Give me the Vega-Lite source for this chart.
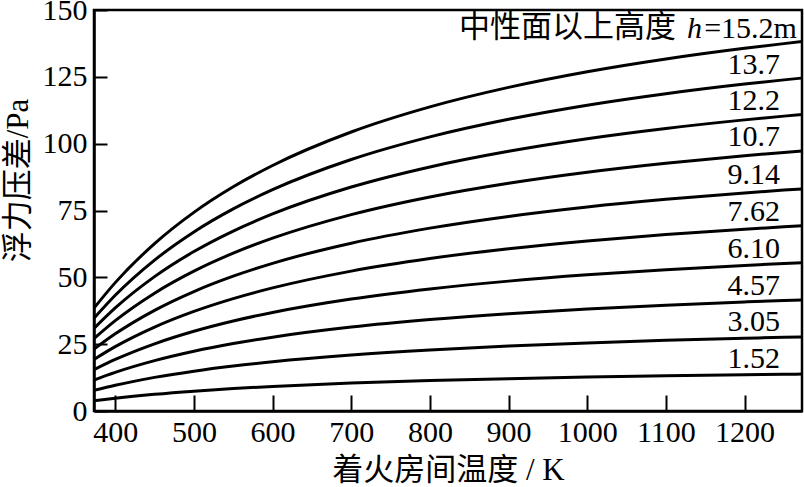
{
  "$schema": "https://vega.github.io/schema/vega-lite/v6.json",
  "autosize": "none",
  "width": 708,
  "height": 401,
  "padding": {"left": 94, "top": 10, "right": 2, "bottom": 76},
  "background": "white",
  "config": {
    "font": "Liberation Serif, Noto Sans CJK SC",
    "view": {"stroke": "black", "strokeWidth": 2.5},
    "axis": {"grid": false, "domainColor": "black", "domainWidth": 2.5, "tickColor": "black", "tickWidth": 2, "labelColor": "black", "titleColor": "black", "labelFont": "Liberation Serif", "labelFontSize": 30, "titleFontWeight": "normal", "titleFont": "Liberation Serif, Noto Sans CJK SC", "titleFontSize": 31}
  },
  "data": {"values": [
    {"h":"1.52","T":373,"P":3.85},{"h":"1.52","T":400,"P":4.80},{"h":"1.52","T":450,"P":6.26},{"h":"1.52","T":500,"P":7.43},{"h":"1.52","T":550,"P":8.39},{"h":"1.52","T":600,"P":9.18},{"h":"1.52","T":700,"P":10.44},{"h":"1.52","T":800,"P":11.38},{"h":"1.52","T":900,"P":12.11},{"h":"1.52","T":1000,"P":12.69},{"h":"1.52","T":1100,"P":13.17},{"h":"1.52","T":1200,"P":13.57},{"h":"1.52","T":1250,"P":13.74},{"h":"1.52","T":1273,"P":13.82},
    {"h":"3.05","T":373,"P":7.73},{"h":"3.05","T":400,"P":9.63},{"h":"3.05","T":450,"P":12.57},{"h":"3.05","T":500,"P":14.91},{"h":"3.05","T":550,"P":16.83},{"h":"3.05","T":600,"P":18.43},{"h":"3.05","T":700,"P":20.94},{"h":"3.05","T":800,"P":22.83},{"h":"3.05","T":900,"P":24.29},{"h":"3.05","T":1000,"P":25.46},{"h":"3.05","T":1100,"P":26.42},{"h":"3.05","T":1200,"P":27.22},{"h":"3.05","T":1250,"P":27.58},{"h":"3.05","T":1273,"P":27.73},
    {"h":"4.57","T":373,"P":11.57},{"h":"4.57","T":400,"P":14.44},{"h":"4.57","T":450,"P":18.83},{"h":"4.57","T":500,"P":22.34},{"h":"4.57","T":550,"P":25.22},{"h":"4.57","T":600,"P":27.61},{"h":"4.57","T":700,"P":31.38},{"h":"4.57","T":800,"P":34.20},{"h":"4.57","T":900,"P":36.40},{"h":"4.57","T":1000,"P":38.15},{"h":"4.57","T":1100,"P":39.59},{"h":"4.57","T":1200,"P":40.79},{"h":"4.57","T":1250,"P":41.32},{"h":"4.57","T":1273,"P":41.55},
    {"h":"6.10","T":373,"P":15.45},{"h":"6.10","T":400,"P":19.27},{"h":"6.10","T":450,"P":25.13},{"h":"6.10","T":500,"P":29.82},{"h":"6.10","T":550,"P":33.66},{"h":"6.10","T":600,"P":36.86},{"h":"6.10","T":700,"P":41.88},{"h":"6.10","T":800,"P":45.65},{"h":"6.10","T":900,"P":48.58},{"h":"6.10","T":1000,"P":50.93},{"h":"6.10","T":1100,"P":52.84},{"h":"6.10","T":1200,"P":54.45},{"h":"6.10","T":1250,"P":55.15},{"h":"6.10","T":1273,"P":55.46},
    {"h":"7.62","T":373,"P":19.30},{"h":"7.62","T":400,"P":24.07},{"h":"7.62","T":450,"P":31.39},{"h":"7.62","T":500,"P":37.25},{"h":"7.62","T":550,"P":42.05},{"h":"7.62","T":600,"P":46.04},{"h":"7.62","T":700,"P":52.32},{"h":"7.62","T":800,"P":57.03},{"h":"7.62","T":900,"P":60.69},{"h":"7.62","T":1000,"P":63.62},{"h":"7.62","T":1100,"P":66.01},{"h":"7.62","T":1200,"P":68.02},{"h":"7.62","T":1250,"P":68.89},{"h":"7.62","T":1273,"P":69.27},
    {"h":"9.14","T":373,"P":23.15},{"h":"9.14","T":400,"P":28.87},{"h":"9.14","T":450,"P":37.66},{"h":"9.14","T":500,"P":44.69},{"h":"9.14","T":550,"P":50.43},{"h":"9.14","T":600,"P":55.23},{"h":"9.14","T":700,"P":62.76},{"h":"9.14","T":800,"P":68.40},{"h":"9.14","T":900,"P":72.79},{"h":"9.14","T":1000,"P":76.31},{"h":"9.14","T":1100,"P":79.18},{"h":"9.14","T":1200,"P":81.58},{"h":"9.14","T":1250,"P":82.63},{"h":"9.14","T":1273,"P":83.09},
    {"h":"10.7","T":373,"P":27.10},{"h":"10.7","T":400,"P":33.80},{"h":"10.7","T":450,"P":44.08},{"h":"10.7","T":500,"P":52.31},{"h":"10.7","T":550,"P":59.04},{"h":"10.7","T":600,"P":64.65},{"h":"10.7","T":700,"P":73.47},{"h":"10.7","T":800,"P":80.08},{"h":"10.7","T":900,"P":85.21},{"h":"10.7","T":1000,"P":89.33},{"h":"10.7","T":1100,"P":92.69},{"h":"10.7","T":1200,"P":95.51},{"h":"10.7","T":1250,"P":96.74},{"h":"10.7","T":1273,"P":97.27},
    {"h":"12.2","T":373,"P":30.90},{"h":"12.2","T":400,"P":38.54},{"h":"12.2","T":450,"P":50.26},{"h":"12.2","T":500,"P":59.65},{"h":"12.2","T":550,"P":67.32},{"h":"12.2","T":600,"P":73.71},{"h":"12.2","T":700,"P":83.77},{"h":"12.2","T":800,"P":91.30},{"h":"12.2","T":900,"P":97.16},{"h":"12.2","T":1000,"P":101.86},{"h":"12.2","T":1100,"P":105.69},{"h":"12.2","T":1200,"P":108.90},{"h":"12.2","T":1250,"P":110.30},{"h":"12.2","T":1273,"P":110.91},
    {"h":"13.7","T":373,"P":34.70},{"h":"13.7","T":400,"P":43.28},{"h":"13.7","T":450,"P":56.44},{"h":"13.7","T":500,"P":66.98},{"h":"13.7","T":550,"P":75.60},{"h":"13.7","T":600,"P":82.78},{"h":"13.7","T":700,"P":94.06},{"h":"13.7","T":800,"P":102.53},{"h":"13.7","T":900,"P":109.11},{"h":"13.7","T":1000,"P":114.38},{"h":"13.7","T":1100,"P":118.68},{"h":"13.7","T":1200,"P":122.29},{"h":"13.7","T":1250,"P":123.86},{"h":"13.7","T":1273,"P":124.55},
    {"h":"15.2","T":373,"P":38.50},{"h":"15.2","T":400,"P":48.02},{"h":"15.2","T":450,"P":62.62},{"h":"15.2","T":500,"P":74.31},{"h":"15.2","T":550,"P":83.87},{"h":"15.2","T":600,"P":91.84},{"h":"15.2","T":700,"P":104.36},{"h":"15.2","T":800,"P":113.76},{"h":"15.2","T":900,"P":121.05},{"h":"15.2","T":1000,"P":126.90},{"h":"15.2","T":1100,"P":131.68},{"h":"15.2","T":1200,"P":135.68},{"h":"15.2","T":1250,"P":137.42},{"h":"15.2","T":1273,"P":138.18}
  ]},
  "encoding": {
    "x": {"field": "T", "type": "quantitative", "scale": {"domain": [373, 1273], "nice": false, "zero": false},
      "axis": {"title": "着火房间温度 / K", "format": "d", "values": [400,500,600,700,800,900,1000,1100,1200], "tickSize": -16, "labelPadding": 22, "titlePadding": 8, "labelFlush": false}},
    "y": {"field": "P", "type": "quantitative", "scale": {"domain": [0, 150], "nice": false},
      "axis": {"title": "浮力压差/Pa", "format": "d", "values": [0,25,50,75,100,125,150], "tickSize": -13, "labelPadding": 20, "titlePadding": 8, "titleY": 170, "labelFlush": false}}
  },
  "layer": [
    {"mark": {"type": "line", "color": "black", "strokeWidth": 3, "interpolate": "monotone", "clip": true},
     "encoding": {"detail": {"field": "h"}}},
    {"transform": [{"filter": "datum.T == 1250 && datum.h != '15.2'"}],
     "mark": {"type": "text", "align": "right", "baseline": "alphabetic", "dx": -4, "dy": -6, "fontSize": 30, "font": "Liberation Serif", "color": "black"},
     "encoding": {"text": {"field": "h"}}},
    {"transform": [{"filter": "datum.T == 1250 && datum.h == '15.2'"}],
     "mark": {"type": "text", "align": "right", "baseline": "alphabetic", "dx": 13, "dy": -6, "fontSize": 30, "font": "Liberation Serif", "color": "black", "text": "=15.2m"}},
    {"transform": [{"filter": "datum.T == 1250 && datum.h == '15.2'"}],
     "mark": {"type": "text", "align": "right", "baseline": "alphabetic", "dx": -82, "dy": -6, "fontSize": 30, "font": "Liberation Serif", "fontStyle": "italic", "color": "black", "text": "h"}},
    {"transform": [{"filter": "datum.T == 1250 && datum.h == '15.2'"}],
     "mark": {"type": "text", "align": "right", "baseline": "alphabetic", "dx": -108, "dy": -7, "fontSize": 31, "font": "Noto Sans CJK SC", "color": "black", "text": "中性面以上高度"}}
  ]
}
